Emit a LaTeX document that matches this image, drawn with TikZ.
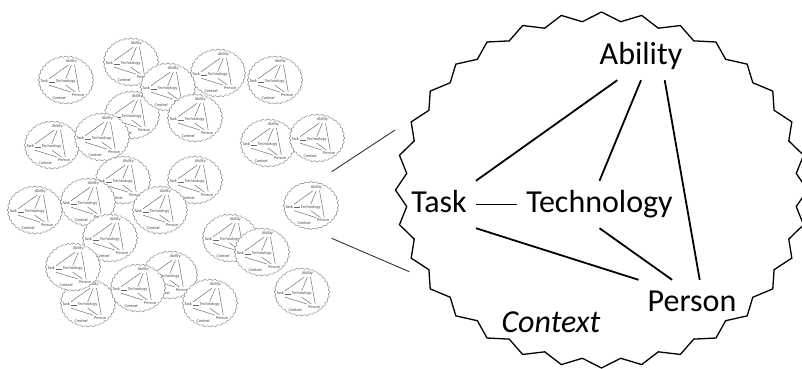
\documentclass[tikz,border=0pt]{standalone}
\usepackage{fontspec}
\setmainfont{Carlito}

\tikzset{
  x=1pt, y=1pt,
  seal/.style={draw=black, fill=white, line width=1.3pt, line join=miter},
  term/.style={font=\fontsize{32}{38}\selectfont, inner sep=9pt, text height=22pt, text depth=7pt},
  tie/.style={line width=1.8pt},
  pointer/.style={draw=black!80, line width=.9pt},
  mini/.style={scale=.135, transform shape,
    seal/.append style={draw=black!45, line width=.5pt},
    tie/.append style={draw=black!60, line width=.45pt},
    term/.append style={text=black!70}},
  pics/tatp/.style={code={
    \draw[seal] (90:206 and 178)
      \foreach \k [evaluate=\k as \r using {1-0.05*mod(\k,2)}] in {1,...,63}
        { -- ({90+5.625*\k}:{206*\r} and {178*\r}) } -- cycle;
    \node[term] (-ability) at (39.5,133.5) {Ability};
    \node[term] (-task) at (-162.5,-14.5) {Task};
    \node[term] (-tech) at (-2,-14.5) {Technology};
    \node[term] (-person) at (90.5,-113.5) {Person};
    \node[term] (-context) at (-50.5,-134.5) {\itshape Context};
    \draw[tie] (-ability.225) -- (-task.north east);
    \draw[tie] (-ability.south) -- (-tech.north);
    \draw[tie] (-ability.315) -- (-person.72);
    \draw[tie] (-task.east) -- (-tech.west);
    \draw[tie] (-task.south east) -- (-person.north west);
    \draw[tie] (-tech.south) -- (-person.130);
  }}
}

\begin{document}
\begin{tikzpicture}
\useasboundingbox (0,0) rectangle (802,368);
\clip (0,0) rectangle (802,368);

% the crowd of small ones, back to front
\pic[mini] (s2) at (131,306) {tatp};
\pic[mini] (s6) at (132,253) {tatp};
\pic[mini] (s4) at (218,295) {tatp};
\pic[mini] (s3) at (168,281) {tatp};
\pic[mini] (s7) at (195,250) {tatp};
\pic[mini] (s1) at (66,288) {tatp};
\pic[mini] (s5) at (275,288) {tatp};
\pic[mini] (s8) at (52,223) {tatp};
\pic[mini] (s9) at (102,231) {tatp};
\pic[mini] (s10) at (268,225) {tatp};
\pic[mini] (s11) at (317,230) {tatp};
\pic[mini] (s12) at (123,188) {tatp};
\pic[mini] (s13) at (195,188) {tatp};
\pic[mini] (s14) at (35,158) {tatp};
\pic[mini] (s15) at (88,166) {tatp};
\pic[mini] (s16) at (160,158) {tatp};
\pic[mini] (s18) at (110,130) {tatp};
\pic[mini] (s24) at (88,65) {tatp};
\pic[mini] (s21) at (73,101) {tatp};
\pic[mini] (s22) at (170,93) {tatp};
\pic[mini] (s23) at (138,80) {tatp};
\pic[mini] (s25) at (210,65) {tatp};
\pic[mini] (s19) at (230,130) {tatp};
\pic[mini] (s20) at (262,116) {tatp};
\pic[mini] (s26) at (302,76) {tatp};
\pic[mini] (s17) at (311,162.5) {tatp};

% zoom lines
\coordinate (up1) at (331.7,196.3);
\coordinate (up2) at (395,238);
\coordinate (lo1) at (331.7,129.7);
\coordinate (lo2) at (409.3,96.3);
\draw[pointer] (up1) -- (up2);
\draw[pointer] (lo1) -- (lo2);

% the big one
\pic (big) at (601.5,178) {tatp};
\end{tikzpicture}
\end{document}
